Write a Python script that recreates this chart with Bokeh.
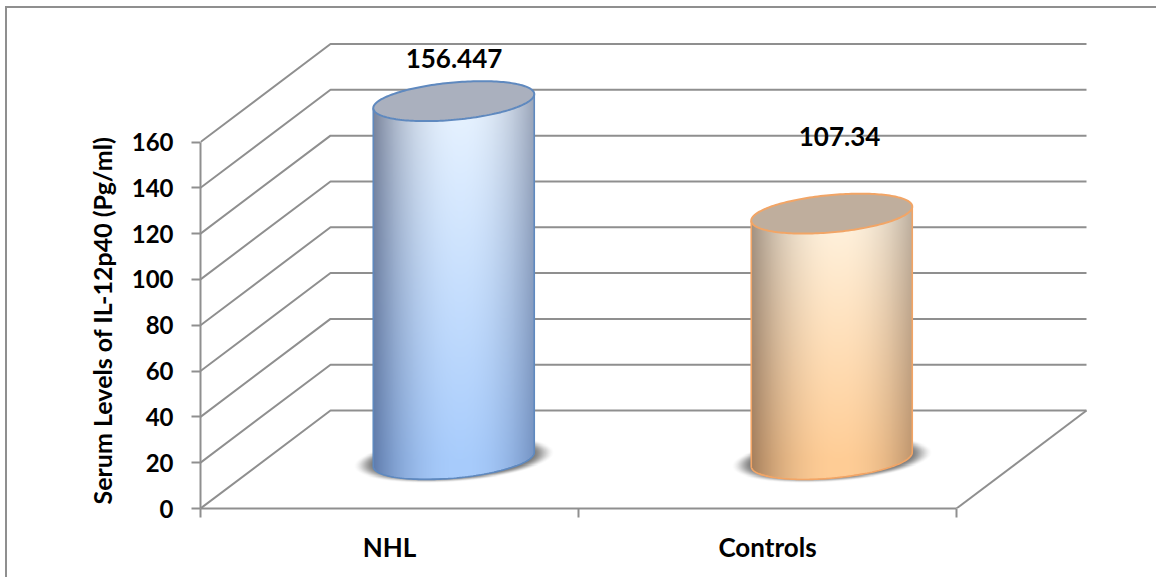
import numpy as np
from bokeh.core.properties import value
from bokeh.embed import file_html
from bokeh.models import FixedTicker, LinearAxis, Range1d, Title
from bokeh.plotting import figure
from bokeh.resources import INLINE

categories = ["NHL", "Controls"]
serum_levels = [156.447, 107.34]
value_labels = ["156.447", "107.34"]
y_ticks = [0, 20, 40, 60, 80, 100, 120, 140, 160]

FONT = "Lato"
GRID = "#8f8f8f"

# Scale of the plot: pixels per category and per unit of the value axis.
PX_X = 378.0
PX_Y = 2.2906
LEFT, BASE, TOP, RIGHT = 200, 508, 28, 1100
W, H = 1156, 577

# Oblique floor depth expressed in axis units.
DEPTH_X = 130 / PX_X
DEPTH_Y = 98 / PX_Y

# Cylinder shape in axis units.
CENTER = 0.67
RX = 80.5 / PX_X
RY = 18.7 / PX_Y
TILT = 7.0 / PX_Y
FLOOR = 49.0 / PX_Y

styles = [
    dict(top="#aab0be", line="#5f89bf",
         c_top=(232, 243, 255), c_bot=(168, 204, 252),
         e_top=(122, 132, 155), e_bot=(96, 124, 172)),
    dict(top="#bfae9d", line="#f2a566",
         c_top=(255, 243, 224), c_bot=(255, 205, 150),
         e_top=(160, 146, 132), e_bot=(165, 127, 93)),
]

p = figure(width=W, height=H, output_backend="svg", toolbar_location=None,
           x_range=Range1d(0, (RIGHT - LEFT) / PX_X),
           y_range=Range1d(0, (BASE - TOP) / PX_Y),
           x_axis_type=None, y_axis_type=None,
           min_border_left=LEFT, min_border_right=W - RIGHT,
           min_border_top=TOP, min_border_bottom=H - BASE,
           outline_line_color=None, border_fill_color="white")
p.grid.visible = False

# Frame line along the top and left edges only; the rest runs off the page.
p.stylesheets = [
    ":host::after { content: ''; position: absolute; left: 5px; top: 6px; right: 0; bottom: 0;"
    f" border-left: 2px solid {GRID}; border-top: 2px solid {GRID}; pointer-events: none; }}"
]

# Walls and floor of the oblique box.
far_right = 2 + DEPTH_X
xs, ys = [], []
for t in y_ticks:
    xs.append([0, DEPTH_X, far_right])
    ys.append([t, t + DEPTH_Y, t + DEPTH_Y])
xs.append([far_right, 2])
ys.append([DEPTH_Y, 0])
p.multi_line(xs, ys, line_color=GRID, line_width=2)


def rgba(r, g, b, a):
    stack = np.dstack([r, g, b, a]).clip(0, 255).astype(np.uint8)
    return stack.view(np.uint32).reshape(stack.shape[:2])


def shadow_image(cx, base):
    a, b = 101 / PX_X, 23 / PX_Y
    x = np.linspace(cx - 1.1 * a, cx + 1.1 * a, 440)
    y = np.linspace(base - 1.6 * b, base + 1.6 * b, 140)
    xx, yy = np.meshgrid(x, y)
    u = (xx - cx) / a
    w = (yy - base - TILT * u) / b
    r = np.sqrt(u ** 2 + w ** 2)
    fade = np.clip((1 - r) / 0.22, 0, 1)
    alpha = 205 * fade * fade * (3 - 2 * fade)
    grey = np.full_like(alpha, 92)
    return rgba(grey, grey, grey, alpha), x[0], y[0], x[-1] - x[0], y[-1] - y[0]


def side_image(cx, base, height, st):
    x = np.linspace(cx - RX, cx + RX, 330)
    y = np.linspace(base - 1.5 * (RY + TILT), base + height + 1.5 * TILT, int(height * PX_Y) + 80)
    xx, yy = np.meshgrid(x, y)
    u = (xx - cx) / RX
    v = np.clip((base + height - yy) / height, 0, 1)[..., None]
    low = base + TILT * u - RY * np.sqrt(np.clip(1 - u ** 2, 0, 1))
    high = base + height + TILT * u
    inside = np.clip((yy - low) * PX_Y + 0.5, 0, 1) * np.clip((high - yy) * PX_Y + 0.5, 0, 1)
    d = (np.abs(u - 0.08) / 1.08)[..., None] ** 2.2
    centre = np.array(st["c_top"]) * (1 - v) + np.array(st["c_bot"]) * v
    edge = np.array(st["e_top"]) * (1 - v) + np.array(st["e_bot"]) * v
    col = centre * (1 - d) + edge * d
    return rgba(col[..., 0], col[..., 1], col[..., 2], 255 * inside), x[0], y[0], x[-1] - x[0], y[-1] - y[0]


t = np.linspace(0, 2 * np.pi, 181)
arc = np.linspace(np.pi, 2 * np.pi, 91)

for i, (val, st) in enumerate(zip(serum_levels, styles)):
    cx = i + CENTER

    img, x0, y0, dw, dh = shadow_image(cx, FLOOR)
    p.image_rgba(image=[img], x=x0, y=y0, dw=dw, dh=dh)

    # Cylinder body: silhouette from the floor ellipse up to the value.
    low_x = cx + RX * np.cos(arc)
    low_y = FLOOR + TILT * np.cos(arc) + RY * np.sin(arc)
    top_y = FLOOR + val
    body_x = np.r_[cx - RX, low_x, cx + RX]
    body_y = np.r_[top_y - TILT, low_y, top_y + TILT]
    p.patch(body_x, body_y, fill_color=st["line"], line_color=None)

    img, x0, y0, dw, dh = side_image(cx, FLOOR, val, st)
    p.image_rgba(image=[img], x=x0, y=y0, dw=dw, dh=dh)
    p.line(body_x, body_y, line_color=st["line"], line_width=1.6)

    # Top cap at the bar's value.
    p.patch(cx + RX * np.cos(t), top_y + TILT * np.cos(t) + RY * np.sin(t),
            fill_color=st["top"], line_color=st["line"], line_width=2)

# Value labels are placed by hand above each cylinder.
label_dy = [43.0, 77.0]
label_cx = [0.6707, 1.6905]
for cx, val, txt, dy in zip(label_cx, serum_levels, value_labels, label_dy):
    p.text(x=[cx], y=[FLOOR + val], text=[txt], y_offset=-dy,
           text_font=value(FONT), text_font_style="bold", text_font_size="26px",
           text_color="black", text_align="center", text_baseline="middle")

left = LinearAxis(ticker=FixedTicker(ticks=y_ticks), bounds=(0, 160))
left.axis_line_color = GRID
left.axis_line_width = 2
left.major_tick_line_color = GRID
left.major_tick_line_width = 2
left.major_tick_in = 0
left.major_tick_out = 9
left.minor_tick_line_color = None
left.major_label_standoff = 18
left.major_label_text_font = FONT
left.major_label_text_font_style = "bold"
left.major_label_text_font_size = "24px"
left.major_label_text_color = "black"
p.add_layout(left, "left")

bottom = LinearAxis(ticker=FixedTicker(ticks=[0.5, 1.5], minor_ticks=[0, 1, 2]), bounds=(0, 2),
                    major_label_overrides={0.5: categories[0], 1.5: categories[1]})
bottom.axis_line_color = GRID
bottom.axis_line_width = 2
bottom.major_tick_line_color = None
bottom.minor_tick_line_color = GRID
bottom.minor_tick_line_width = 2
bottom.minor_tick_in = 0
bottom.minor_tick_out = 9
bottom.major_label_standoff = 13
bottom.major_label_text_font = FONT
bottom.major_label_text_font_style = "bold"
bottom.major_label_text_font_size = "26px"
bottom.major_label_text_color = "black"
p.add_layout(bottom, "below")

p.add_layout(Title(text="Serum Levels of IL-12p40 (Pg/ml)", align="left", offset=4, standoff=23,
                   text_font=FONT, text_font_style="bold", text_font_size="25px",
                   text_color="black"), "left")

open("out.html", "w").write(file_html(p, INLINE))
